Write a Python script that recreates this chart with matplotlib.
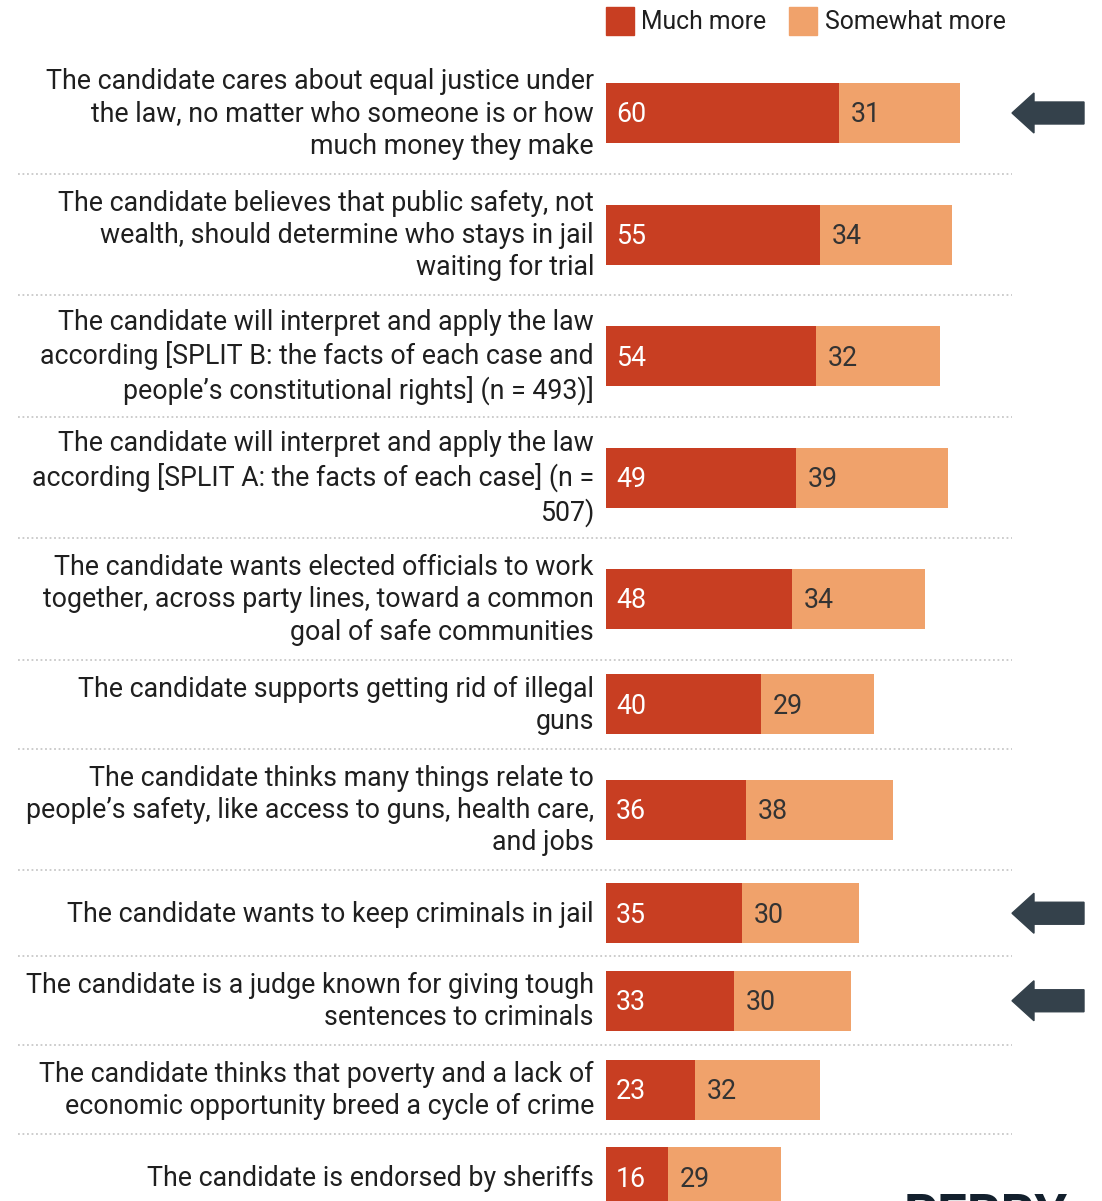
import numpy as np
import matplotlib
matplotlib.use("Agg")
import matplotlib.pyplot as plt
from matplotlib.patches import Polygon, Rectangle

plt.rcParams['font.family'] = ['Roboto', 'DejaVu Sans']

labels = [
  "The candidate cares about equal justice under\nthe law, no matter who someone is or how\nmuch money they make",
  "The candidate believes that public safety, not\nwealth, should determine who stays in jail\nwaiting for trial",
  "The candidate will interpret and apply the law\naccording [SPLIT B: the facts of each case and\npeople\u2019s constitutional rights] (n = 493)]",
  "The candidate will interpret and apply the law\naccording [SPLIT A: the facts of each case] (n =\n507)",
  "The candidate wants elected officials to work\ntogether, across party lines, toward a common\ngoal of safe communities",
  "The candidate supports getting rid of illegal\nguns",
  "The candidate thinks many things relate to\npeople\u2019s safety, like access to guns, health care,\nand jobs",
  "The candidate wants to keep criminals in jail",
  "The candidate is a judge known for giving tough\nsentences to criminals",
  "The candidate thinks that poverty and a lack of\neconomic opportunity breed a cycle of crime",
  "The candidate is endorsed by sheriffs",
]
much_more = [60, 55, 54, 49, 48, 40, 36, 35, 33, 23, 16]
somewhat_more = [31, 34, 32, 39, 34, 29, 38, 30, 30, 32, 29]
arrow_rows = [0, 7, 8]

dark_red = '#C83E22'
orange = '#F0A26B'
text_col = '#1f1f1f'
arrow_col = '#34414B'

W, H = 1102, 1201
px_per_unit = 3.885
bar_left = 606
fs = 19.3

fig = plt.figure(figsize=(W / 100, H / 100), dpi=100)
# overlay in pixel coords for layout bits
ov = fig.add_axes([0, 0, 1, 1])
ov.set_xlim(0, W)
ov.set_ylim(H, 0)
ov.axis('off')

ax = fig.add_axes([bar_left / W, 0, (W - bar_left) / W, 1])
ax.set_xlim(0, (W - bar_left) / px_per_unit)
ax.set_ylim(H, 0)
ax.axis('off')

# row heights depend on number of label lines
row_h = {1: 86, 2: 89, 3: 121.5}
top = 52.25
centers = []
bounds = []
for lab in labels:
  h = row_h[lab.count("\n") + 1]
  centers.append(top + h / 2)
  top += h
  bounds.append(top)

ax.barh(centers, much_more, height=60, color=dark_red)
ax.barh(centers, somewhat_more, left=much_more, height=60, color=orange)

label_x = -(bar_left - 594) / px_per_unit
for i, lab in enumerate(labels):
  ax.text(label_x, centers[i] + 1, lab, ha='right', va='center', fontsize=fs,
          color=text_col, linespacing=1.25, clip_on=False)
  ax.text(2.6, centers[i] + 2, str(much_more[i]), ha='left', va='center',
          fontsize=fs, color='white')
  ax.text(much_more[i] + 3.0, centers[i] + 2, str(somewhat_more[i]), ha='left',
          va='center', fontsize=fs, color='#333333')

# dotted separators
for b in bounds[:-1]:
  ov.plot([18, 1012], [b, b], linestyle=(0, (1, 1.5)), color='#c8c8c8', lw=1.3)

# arrows
for r in arrow_rows:
  c = centers[r]
  pts = [(1012, c), (1034, c - 20), (1034, c - 11), (1084, c - 11),
         (1084, c + 11), (1034, c + 11), (1034, c + 20)]
  ov.add_patch(Polygon(pts, closed=True, color=arrow_col))

# legend
ov.add_patch(Rectangle((606, 7), 28, 28, color=dark_red))
ov.text(641, 22, "Much more", ha='left', va='center', fontsize=17.8, color=text_col)
ov.add_patch(Rectangle((789, 7), 28, 28, color=orange))
ov.text(825, 22, "Somewhat more", ha='left', va='center', fontsize=17.8, color=text_col)

# logo cut off at bottom
ov.text(904, 1192, "PERRY", ha='left', va='top', fontsize=38, fontweight='bold',
        color='#13202d')

fig.savefig("out.png", dpi=100)
